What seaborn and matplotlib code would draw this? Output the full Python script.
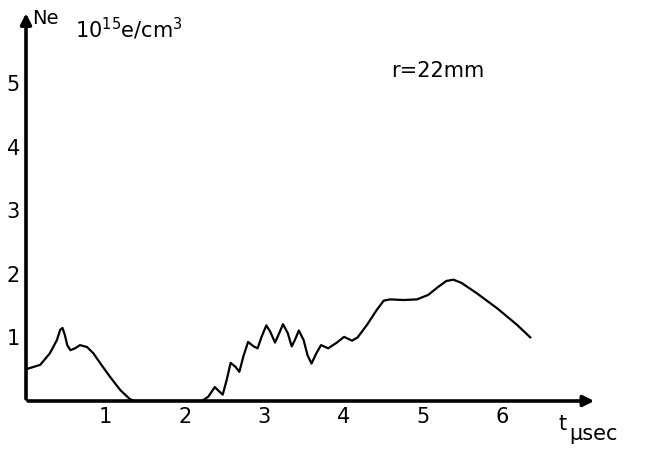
import pandas as pd
import matplotlib
matplotlib.use("Agg")
import matplotlib.pyplot as plt
import seaborn as sns

# electron density trace (t in usec, Ne in 1e15 e/cm3)
t_us = [0.0, 0.18, 0.30, 0.39, 0.43, 0.46, 0.49, 0.52, 0.56, 0.62, 0.68, 0.77, 0.85,
        0.95, 1.06, 1.19, 1.31, 1.37,
        2.22, 2.30, 2.38, 2.42, 2.48, 2.53, 2.58, 2.64, 2.69, 2.74, 2.80, 2.87, 2.92,
        2.97, 3.03, 3.08, 3.14, 3.20, 3.24, 3.30, 3.35, 3.39, 3.44, 3.50, 3.55, 3.60,
        3.66, 3.72, 3.81, 3.92, 4.01, 4.11, 4.18, 4.30, 4.42, 4.51, 4.59, 4.76, 4.93,
        5.07, 5.20, 5.30, 5.39, 5.49, 5.68, 5.94, 6.19, 6.36]
ne = [0.50, 0.57, 0.75, 0.96, 1.12, 1.15, 1.04, 0.88, 0.80, 0.83, 0.88, 0.85, 0.75,
      0.57, 0.38, 0.17, 0.03, 0.0,
      0.0, 0.07, 0.22, 0.17, 0.10, 0.33, 0.60, 0.54, 0.46, 0.70, 0.93, 0.86, 0.83,
      1.01, 1.19, 1.09, 0.92, 1.09, 1.21, 1.07, 0.86, 0.96, 1.11, 0.96, 0.72, 0.59,
      0.75, 0.88, 0.83, 0.92, 1.01, 0.95, 1.00, 1.20, 1.43, 1.58, 1.60, 1.59, 1.60,
      1.67, 1.80, 1.89, 1.91, 1.86, 1.70, 1.46, 1.20, 1.00]

x_ticks = [1, 2, 3, 4, 5, 6]
y_ticks = [1, 2, 3, 4, 5]

df = pd.DataFrame({"t": t_us, "Ne": ne})

sns.set_theme(style="white")
plt.rcParams["font.family"] = ["Liberation Sans Narrow", "DejaVu Sans"]
plt.rcParams["text.color"] = "black"
plt.rcParams["xtick.color"] = "black"
plt.rcParams["ytick.color"] = "black"

fig = plt.figure(figsize=(6.49, 4.5), dpi=100)
ax = fig.add_axes([26 / 649, 49 / 450, 0.941, 0.875])

sns.lineplot(data=df, x="t", y="Ne", sort=False, estimator=None,
             color="black", linewidth=1.6, ax=ax)

ax.set_xlim(0, 7.7)
ax.set_ylim(0, 6.2)
for s in ax.spines.values():
    s.set_visible(False)

# axes drawn as arrows
ax.annotate("", xy=(7.2, 0), xytext=(-0.01, 0),
            arrowprops=dict(arrowstyle="-|>", color="black", lw=2.6, mutation_scale=16),
            annotation_clip=False)
ax.annotate("", xy=(0, 6.15), xytext=(0, -0.01),
            arrowprops=dict(arrowstyle="-|>", color="black", lw=2.6, mutation_scale=16),
            annotation_clip=False)

ax.set_xticks(x_ticks)
ax.set_yticks(y_ticks)
ax.tick_params(axis="both", direction="inout", length=5, width=1.2,
               labelsize=15, pad=2)
ax.set_xlabel("")
ax.set_ylabel("")

ax.text(0.08, 6.02, "Ne", fontsize=14, ha="left", va="center")
ax.text(0.62, 5.86, r"10$^{15}$e/cm$^3$", fontsize=15, ha="left", va="center")
ax.text(4.6, 5.2, "r=22mm", fontsize=15, ha="left", va="center")
ax.text(6.72, -0.36, "t", fontsize=15, ha="left", va="center", clip_on=False)
ax.text(6.85, -0.52, "μsec", fontsize=15, ha="left", va="center", clip_on=False)

fig.savefig("out.png", dpi=100)
